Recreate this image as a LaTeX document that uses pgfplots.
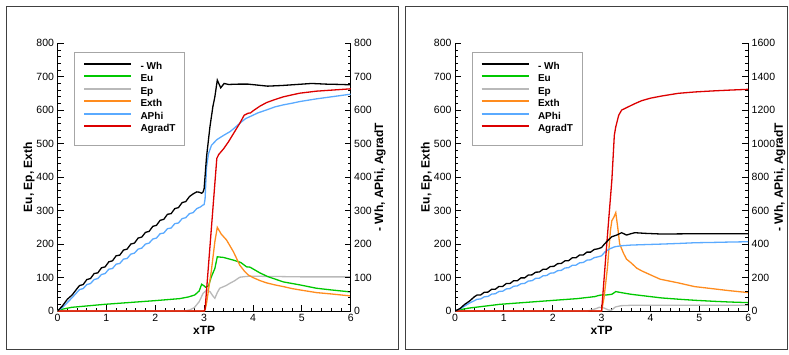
\documentclass[border=0pt]{standalone}
\usepackage{fontspec}
\setmainfont{Liberation Sans}
\usepackage{pgfplots}
\pgfplotsset{compat=1.18}
\newcommand\ticksfont{\fontsize{10.5}{12}\selectfont}
\newcommand\labfont{\bfseries\fontsize{12}{14}\selectfont}
\newcommand\legfont{\bfseries\fontsize{10}{12}\selectfont}
\definecolor{colWh}{RGB}{0,0,0}
\definecolor{colEu}{RGB}{0,200,0}
\definecolor{colEp}{RGB}{185,185,185}
\definecolor{colEx}{RGB}{255,140,30}
\definecolor{colAP}{RGB}{90,170,255}
\definecolor{colAG}{RGB}{220,0,0}
\pgfplotsset{
  base/.style={
    scale only axis, width=293.2pt, height=267.7pt,
    xmin=0, xmax=6, ymin=0,
    anchor=south west,
    tick align=inside,
    major tick length=6pt, minor tick length=3pt,
    minor x tick num=4, minor y tick num=4,
    every tick/.style={black, line width=0.8pt},
    axis line style={black, line width=1pt},
    tick label style={font=\ticksfont},
    /pgf/number format/assume math mode=true,
    /pgf/number format/1000 sep={},
    label style={font=\labfont},
    every axis plot/.append style={line width=1.3pt},
  },
  mainax/.style={
    base,
    axis x line*=bottom, axis y line*=left,
    xtick={0,1,2,3,4,5,6},
    ymax=800, ytick={0,100,...,800},
    xlabel={xTP}, ylabel={Eu, Ep, Exth},
    xlabel style={at={(axis description cs:0.5,-0.071)}, anchor=center},
    ylabel style={at={(axis description cs:-0.0972,0.5)}, anchor=center},
    legend style={at={(axis description cs:0.0563,0.9686)}, anchor=north west,
      draw=black!35, line width=0.8pt, fill=white, font=\legfont,
      inner xsep=9pt, inner ysep=9pt, row sep=0pt,
      nodes={inner sep=0pt, text height=8pt, text depth=4.5pt},
      /tikz/every odd column/.append style={column sep=8.5pt}},
    legend cell align=left,
    legend image code/.code={\draw[##1, line width=1.6pt] (0pt,3.6pt) -- (47pt,3.6pt);},
  },
  twinax/.style={
    base,
    axis x line=none, axis y line*=right,
    ylabel={- Wh, APhi, AgradT},
  },
}
\begin{document}
\begin{tikzpicture}
\useasboundingbox (0,0) rectangle (789pt,354pt);
\draw[line width=1pt, black!75] (6.7pt,5pt) rectangle (398.3pt,347.3pt);
\draw[line width=1pt, black!75] (405pt,5pt) rectangle (787.7pt,347.3pt);

%================ LEFT PANEL =================
\begin{axis}[mainax, at={(57.5pt,43pt)}]
\addlegendimage{colWh}\addlegendentry{- Wh}
\addlegendimage{colEu}\addlegendentry{Eu}
\addlegendimage{colEp}\addlegendentry{Ep}
\addlegendimage{colEx}\addlegendentry{Exth}
\addlegendimage{colAP}\addlegendentry{APhi}
\addlegendimage{colAG}\addlegendentry{AgradT}
% Ep
\addplot[colEp, forget plot] coordinates {
(0,0) (2.6,0) (2.7,3) (2.8,10) (2.9,28) (2.98,53) (3.05,62) (3.12,58) (3.18,45) (3.22,38)
(3.27,55) (3.32,68) (3.45,76) (3.53,83) (3.62,90) (3.73,101) (3.85,103) (3.94,104)
(4.5,103) (5,102) (6,102)};
% Eu
\addplot[colEu, forget plot] coordinates {
(0,0) (0.02,3) (0.29,11) (0.97,20) (2.0,31) (2.5,37) (2.68,42) (2.81,48) (2.9,60) (2.95,80)
(3.0,75) (3.03,71) (3.09,75) (3.15,103) (3.22,127) (3.27,162) (3.4,160) (3.6,152) (3.75,145)
(3.87,132) (3.94,131) (4.14,114) (4.3,103) (4.62,87) (4.96,78) (5.3,68) (5.6,63) (6.0,57)};
% Exth
\addplot[colEx, forget plot] coordinates {
(0,0) (3.0,0) (3.02,3) (3.05,23) (3.15,122) (3.22,207) (3.27,250) (3.35,230) (3.46,212)
(3.6,177) (3.73,137) (3.82,120) (3.9,108) (4.0,100) (4.14,91) (4.28,84) (4.45,78) (4.62,73)
(4.8,67) (4.96,63) (5.3,55) (5.6,51) (6.0,45)};
\end{axis}
\begin{axis}[twinax, at={(57.5pt,43pt)}, ymax=800, ytick={0,100,...,800}, ylabel style={at={(axis description cs:1.100,0.5)}, anchor=center}]
% APhi
\addplot[colAP] coordinates {
(0,0) (0.1,10) (0.2,25) (0.3,40) (0.4,56)
(0.45,64) (0.525,67) (0.6,79) (0.675,82) (0.75,94) (0.825,97) (0.9,109) (0.975,112)
(1.05,125) (1.125,127) (1.2,140) (1.275,142) (1.35,155) (1.425,157) (1.5,170) (1.575,173)
(1.65,185) (1.725,188) (1.8,200) (1.875,203) (1.95,215) (2.025,218) (2.1,231) (2.175,233)
(2.25,246) (2.325,248) (2.4,261) (2.475,263) (2.55,276) (2.625,279) (2.7,291) (2.775,294)
(2.85,306) (2.925,311) (2.97,316) (3.0,318) (3.02,335) (3.05,430) (3.09,470) (3.15,495)
(3.26,512) (3.4,525) (3.53,536) (3.63,548) (3.73,561) (3.85,575) (3.94,581) (4.1,592)
(4.28,601) (4.45,610) (4.62,616) (4.8,621) (4.96,626) (5.3,634) (5.6,640) (6.0,648)};
% AgradT
\addplot[colAG] coordinates {
(0,0) (3.0,0) (3.02,5) (3.26,456) (3.3,468) (3.4,485) (3.5,506) (3.6,530) (3.73,561)
(3.82,585) (3.9,591) (3.95,592) (4.0,598) (4.14,612) (4.28,623) (4.45,632) (4.62,640)
(4.8,646) (4.96,651) (5.3,657) (5.6,660) (6.0,664)};
% -Wh
\addplot[colWh] coordinates {
(0,0) (0.1,15) (0.2,35) (0.3,48) (0.4,67)
(0.45,76) (0.525,79) (0.6,94) (0.675,97) (0.75,112) (0.825,114) (0.9,129) (0.975,132)
(1.05,147) (1.125,150) (1.2,165) (1.275,167) (1.35,182) (1.425,185) (1.5,200) (1.575,203)
(1.65,218) (1.725,221) (1.8,235) (1.875,238) (1.95,253) (2.025,256) (2.1,271) (2.175,274)
(2.25,289) (2.325,291) (2.4,306) (2.475,309) (2.55,324) (2.625,327) (2.7,342) (2.775,350)
(2.85,356) (2.9,355) (2.95,352) (2.98,356) (3.0,365) (3.05,461) (3.12,551) (3.18,611)
(3.22,640) (3.27,690) (3.34,667) (3.41,680) (3.5,677) (3.7,678) (3.9,678) (4.1,675)
(4.3,672) (4.6,674) (4.9,677) (5.2,680) (5.5,678) (5.8,677) (6.0,676)};
\end{axis}

%================ RIGHT PANEL =================
\begin{axis}[mainax, at={(455pt,43pt)}]
\addlegendimage{colWh}\addlegendentry{- Wh}
\addlegendimage{colEu}\addlegendentry{Eu}
\addlegendimage{colEp}\addlegendentry{Ep}
\addlegendimage{colEx}\addlegendentry{Exth}
\addlegendimage{colAP}\addlegendentry{APhi}
\addlegendimage{colAG}\addlegendentry{AgradT}
% Ep
\addplot[colEp, forget plot] coordinates {
(0,0) (2.7,0) (2.8,3) (2.9,8) (2.95,11) (3.05,9) (3.14,3) (3.2,2) (3.28,12) (3.4,16)
(3.6,17) (4.0,17) (5.0,17.5) (6.0,17)};
% Eu
\addplot[colEu, forget plot] coordinates {
(0,0) (0.1,4) (0.3,9) (0.92,20) (1.94,31) (2.5,37) (2.86,43) (2.93,46) (3.0,48) (3.1,48)
(3.21,50) (3.29,58) (3.4,55) (3.6,50) (4.0,43) (4.23,39) (4.6,35) (4.91,32) (5.3,29)
(5.6,27) (6.0,25)};
% Exth
\addplot[colEx, forget plot] coordinates {
(0,0) (3.0,0) (3.05,40) (3.12,130) (3.18,240) (3.21,270) (3.25,280) (3.29,294) (3.33,250)
(3.37,200) (3.45,172) (3.51,155) (3.61,143) (3.72,128) (3.82,120) (4.0,108) (4.2,95)
(4.57,84) (4.9,73) (5.25,67) (5.6,61) (6.0,55)};
\end{axis}
\begin{axis}[twinax, at={(455pt,43pt)}, ymax=1600, ytick={0,200,...,1600}, ylabel style={at={(axis description cs:1.108,0.5)}, anchor=center}]
% APhi
\addplot[colAP] coordinates {
(0,0) (0.1,12) (0.2,30) (0.3,48) (0.4,62)
(0.45,70) (0.525,72) (0.6,85) (0.675,87) (0.75,101) (0.825,103) (0.9,117) (0.975,118)
(1.05,132) (1.125,134) (1.2,148) (1.275,150) (1.35,163) (1.425,165) (1.5,179) (1.575,181)
(1.65,195) (1.725,196) (1.8,210) (1.875,212) (1.95,226) (2.025,228) (2.1,241) (2.175,243)
(2.25,257) (2.325,259) (2.4,273) (2.475,274) (2.55,288) (2.625,290) (2.7,304) (2.775,306)
(2.85,319) (2.93,324) (3.0,330) (3.07,354) (3.17,372) (3.27,384) (3.4,390) (3.6,394)
(3.9,397) (4.23,400) (4.6,404) (4.91,408) (5.3,410) (5.6,412) (6.0,414)};
% AgradT
\addplot[colAG] coordinates {
(0,0) (3.0,0) (3.1,380) (3.21,783) (3.26,1050) (3.29,1101) (3.35,1170) (3.41,1201)
(3.55,1221) (3.7,1242) (3.82,1257) (4.0,1272) (4.23,1285) (4.57,1301) (4.9,1309)
(5.25,1315) (5.6,1320) (6.0,1325)};
% -Wh
\addplot[colWh] coordinates {
(0,0) (0.1,14) (0.2,40) (0.3,60) (0.4,86)
(0.45,95) (0.525,96) (0.6,112) (0.675,113) (0.75,130) (0.825,130) (0.9,147) (0.975,147)
(1.05,164) (1.125,164) (1.2,181) (1.275,181) (1.35,198) (1.425,198) (1.5,215) (1.575,216)
(1.65,232) (1.725,233) (1.8,249) (1.875,250) (1.95,266) (2.025,267) (2.1,283) (2.175,284)
(2.25,300) (2.325,301) (2.4,318) (2.475,318) (2.55,335) (2.625,335) (2.7,352) (2.775,352)
(2.85,368) (2.93,372) (3.0,380) (3.07,404) (3.14,425) (3.21,444) (3.31,454) (3.41,468)
(3.51,454) (3.6,462) (3.68,468) (3.9,464) (4.23,460) (4.6,461) (5.0,462) (5.5,462) (6.0,462)};
\end{axis}
\end{tikzpicture}
\end{document}
